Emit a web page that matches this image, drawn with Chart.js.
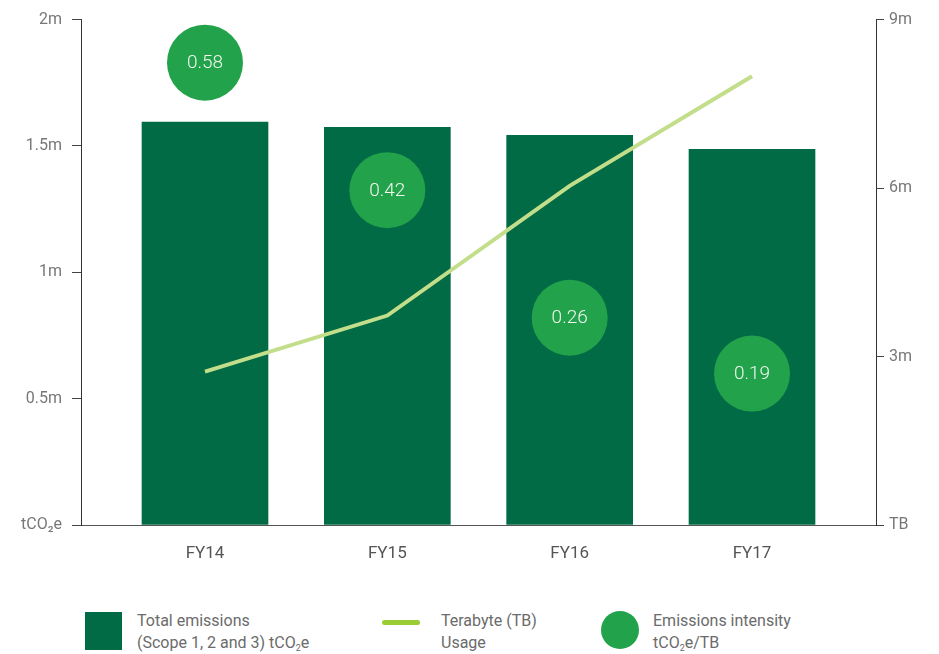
<!DOCTYPE html>
<html>
<head>
<meta charset="utf-8">
<script src="https://cdn.jsdelivr.net/npm/chart.js@4.4.0/dist/chart.umd.min.js"></script>
<style>
  body { margin: 0; background: #fff; font-family: Roboto, "Noto Sans", sans-serif; }
  #wrap { position: relative; width: 939px; height: 654px; }
  #chart { position: absolute; left: 0; top: 0; }
  .leg { position: absolute; top: 610px; font-size: 16px; line-height: 22px; color: #6b6b6b; font-family: "Liberation Sans Narrow", Roboto, sans-serif; }
  .sw { position: absolute; }
  sub { font-size: 9px; vertical-align: -3px; line-height: 0; }
</style>
</head>
<body>
<div id="wrap">
  <canvas id="chart" width="939" height="590"></canvas>
  <div class="sw" style="left:85px;top:612px;width:37px;height:38px;background:#006b45"></div>
  <div class="leg" style="left:137px">Total emissions<br>(Scope 1, 2 and 3) tCO<sub>2</sub>e</div>
  <div class="sw" style="left:382px;top:620px;width:38px;height:5px;border-radius:3px;background:#9acd32"></div>
  <div class="leg" style="left:441px">Terabyte (TB)<br>Usage</div>
  <div class="sw" style="left:601px;top:611px;width:38px;height:38px;border-radius:50%;background:#22a34b"></div>
  <div class="leg" style="left:653px">Emissions intensity<br>tCO<sub>2</sub>e/TB</div>
</div>
<script>
// data (millions)
var categories = ["FY14", "FY15", "FY16", "FY17"];
var totalEmissions = [1.594, 1.574, 1.542, 1.487];   // tCO2e, left axis
var terabyteUsage = [2.73, 3.73, 6.04, 7.99];         // TB, right axis
var intensity = [0.58, 0.42, 0.26, 0.19];             // tCO2e/TB
var leftTicks = [0, 0.5, 1, 1.5, 2];
var leftTickLabels = ["tCO\u2082e", "0.5m", "1m", "1.5m", "2m"];
var rightTicks = [0, 3, 6, 9];
var rightTickLabels = ["TB", "3m", "6m", "9m"];

function pts(arr) {
  return arr.map(function(v, i){ return {x: i, y: v}; });
}

var circleLabels = {
  id: "circleLabels",
  afterDatasetsDraw: function(chart) {
    var meta = chart.getDatasetMeta(2);
    var ctx = chart.ctx;
    ctx.save();
    ctx.fillStyle = "#f2f7f0";
    ctx.font = "300 19px Roboto";
    ctx.textAlign = "center";
    ctx.textBaseline = "middle";
    meta.data.forEach(function(p, i){
      ctx.fillText(intensity[i].toFixed(2), p.x, p.y + 1);
    });
    ctx.restore();
  }
};

var ctx = document.getElementById("chart").getContext("2d");
var myChart = new Chart(ctx, {
  type: "bar",
  data: {
    datasets: [
      {
        type: "bar",
        data: pts(totalEmissions),
        backgroundColor: "#006b45",
        barThickness: 126,
        yAxisID: "y",
        order: 3
      },
      {
        type: "line",
        data: pts(terabyteUsage),
        borderColor: "#c2de8a",
        borderWidth: 4,
        pointRadius: 0,
        tension: 0,
        yAxisID: "y2",
        order: 2
      },
      {
        type: "scatter",
        data: pts(intensity),
        backgroundColor: "#22a34b",
        borderWidth: 0,
        pointRadius: 38,
        pointHoverRadius: 38,
        yAxisID: "yI",
        order: 1
      }
    ]
  },
  options: {
    responsive: false,
    animation: false,
    layout: { autoPadding: false, padding: { top: 18 } },
    plugins: { legend: { display: false }, tooltip: { enabled: false } },
    scales: {
      x: {
        type: "linear",
        min: -0.68,
        max: 3.68,
        offset: false,
        afterBuildTicks: function(s){ s.ticks = categories.map(function(c, i){ return {value: i}; }); },
        afterFit: function(s){ s.height = 65; },
        ticks: {
          callback: function(v){ return categories[v]; },
          color: "#555",
          font: { size: 17, family: "Roboto" },
          padding: 19
        },
        grid: { display: false, drawTicks: false },
        border: { color: "#555", width: 1 }
      },
      y: {
        position: "left",
        min: 0,
        max: 2,
        afterBuildTicks: function(s){ s.ticks = leftTicks.map(function(v){ return {value: v}; }); },
        afterFit: function(s){ s.width = 81; },
        ticks: {
          callback: function(v){ return leftTickLabels[leftTicks.indexOf(v)]; },
          color: "#777",
          font: { size: 16, family: "Roboto" },
          padding: 10
        },
        grid: { drawOnChartArea: false, drawTicks: true, tickLength: 9, tickColor: "#444" },
        border: { color: "#333", width: 1 }
      },
      y2: {
        position: "right",
        min: 0,
        max: 9,
        afterBuildTicks: function(s){ s.ticks = rightTicks.map(function(v){ return {value: v}; }); },
        afterFit: function(s){ s.width = 63; },
        ticks: {
          callback: function(v){ return rightTickLabels[rightTicks.indexOf(v)]; },
          color: "#777",
          font: { size: 16, family: "Roboto" },
          padding: 5
        },
        grid: { drawOnChartArea: false, drawTicks: true, tickLength: 8, tickColor: "#444" },
        border: { color: "#333", width: 1 }
      },
      yI: {
        display: false,
        min: 0,
        max: 0.634
      }
    }
  },
  plugins: [circleLabels]
});
</script>
</body>
</html>
